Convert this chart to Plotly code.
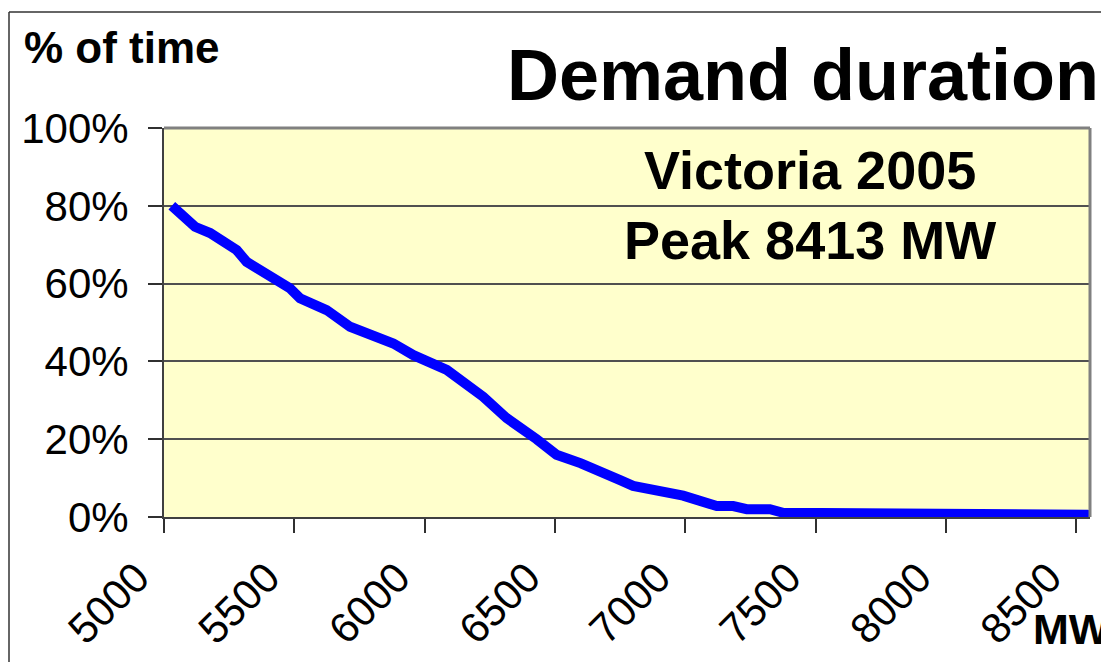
import plotly.graph_objects as go

# Demand duration curve, Victoria 2005
mw = [5030, 5119, 5177, 5279, 5317, 5419, 5483, 5522, 5624, 5714, 5829, 5880,
      5957, 6046, 6085, 6225, 6315, 6430, 6506, 6600, 6673, 6750, 6800, 6877,
      6992, 7121, 7184, 7236, 7325, 7375, 7721, 7773, 8540, 8552]
pct = [80.0, 74.6, 73.0, 68.6, 65.6, 61.0, 58.8, 56.2, 53.2, 48.9, 45.5, 44.6,
       41.6, 38.8, 37.8, 30.9, 25.4, 20.0, 16.0, 13.8, 12.0, 9.5, 8.0, 7.0,
       5.5, 2.8, 2.8, 2.0, 2.0, 1.1, 1.1, 0.6, 0.6, 0.0]

x_ticks = [5000, 5500, 6000, 6500, 7000, 7500, 8000, 8500]
y_ticks = [0, 20, 40, 60, 80, 100]
x_range = [5000, 8553]
y_range = [0, 100]

title_text = "Demand duration"
y_title = "% of time"
x_title = "MW"
note_lines = ["Victoria 2005", "Peak 8413 MW"]

FONT = "Arial, Liberation Sans, sans-serif"
# the page body has an 8px margin: the figure sits at (8, 8) in the window
OFF = 8
W, H = 1109 - OFF, 662 - OFF
L, R, T, B = 164 - OFF, 19, 128 - OFF, 145
PW, PH = W - L - R, H - T - B


def px(xs):
    """screen x (window pixels) -> paper coordinate"""
    return (xs - 164) / PW


def py(ys):
    """screen y (window pixels) -> paper coordinate"""
    return (517 - ys) / PH


fig = go.Figure()
fig.add_trace(go.Scatter(
    x=mw, y=pct, mode="lines",
    line=dict(color="#0000FF", width=10),
    hoverinfo="skip", showlegend=False, cliponaxis=False,
))

fig.update_layout(
    width=W, height=H,
    margin=dict(l=L, r=R, t=T, b=B, autoexpand=False),
    paper_bgcolor="white",
    plot_bgcolor="#FFFFCC",
    font=dict(family=FONT, color="black"),
    showlegend=False,
    xaxis=dict(
        range=x_range, tickvals=x_ticks, ticktext=[str(v) for v in x_ticks],
        tickangle=-45, tickfont=dict(size=42, family=FONT, color="black"),
        showgrid=False, zeroline=False,
        showline=True, linecolor="#404040", linewidth=2,
        ticks="outside", ticklen=14, tickwidth=1.5, tickcolor="#303030",
        ticklabelshift=-27, ticklabelstandoff=3,
        fixedrange=True,
    ),
    yaxis=dict(
        range=y_range, tickvals=y_ticks, ticktext=[f"{v}%" for v in y_ticks],
        tickfont=dict(size=42, family=FONT, color="black"),
        showgrid=True, gridcolor="#505050", gridwidth=1.5,
        zeroline=False,
        showline=True, linecolor="#404040", linewidth=2,
        ticks="outside", ticklen=14, tickwidth=1.5, tickcolor="#303030",
        ticklabelstandoff=11,
        fixedrange=True,
    ),
)

# plot-area border (top and right, grey) and outer frame lines
fig.add_shape(type="line", xref="paper", yref="paper", x0=0, x1=1, y0=1, y1=1,
              line=dict(color="#808080", width=3), layer="above")
fig.add_shape(type="line", xref="paper", yref="paper", x0=1, x1=1, y0=0, y1=1,
              line=dict(color="#808080", width=3), layer="above")
fig.add_shape(type="line", xref="paper", yref="paper",
              x0=px(9), x1=px(9), y0=py(12), y1=py(670),
              line=dict(color="#333333", width=1.5))
fig.add_shape(type="line", xref="paper", yref="paper",
              x0=px(9), x1=px(1115), y0=py(12), y1=py(12),
              line=dict(color="#333333", width=1.5))

fig.add_annotation(text=f"<b>{title_text}</b>", xref="paper", yref="paper",
                   x=px(1101), y=py(75), xanchor="right", yanchor="middle",
                   showarrow=False, font=dict(size=72, family=FONT, color="black"))
fig.add_annotation(text=f"<b>{y_title}</b>", xref="paper", yref="paper",
                   x=px(22), y=py(48), xanchor="left", yanchor="middle",
                   showarrow=False, font=dict(size=44, family=FONT, color="black"))
fig.add_annotation(text=f"<b>{x_title}</b>", xref="paper", yref="paper",
                   x=px(1031), y=py(629), xanchor="left", yanchor="middle",
                   showarrow=False, font=dict(size=43, family=FONT, color="black"))
for txt, yc in zip(note_lines, [170, 240]):
    fig.add_annotation(text=f"<b>{txt}</b>", xref="paper", yref="paper",
                       x=px(810), y=py(yc), xanchor="center", yanchor="middle",
                       showarrow=False, font=dict(size=54, family=FONT, color="black"))

fig.write_html("out.html")
